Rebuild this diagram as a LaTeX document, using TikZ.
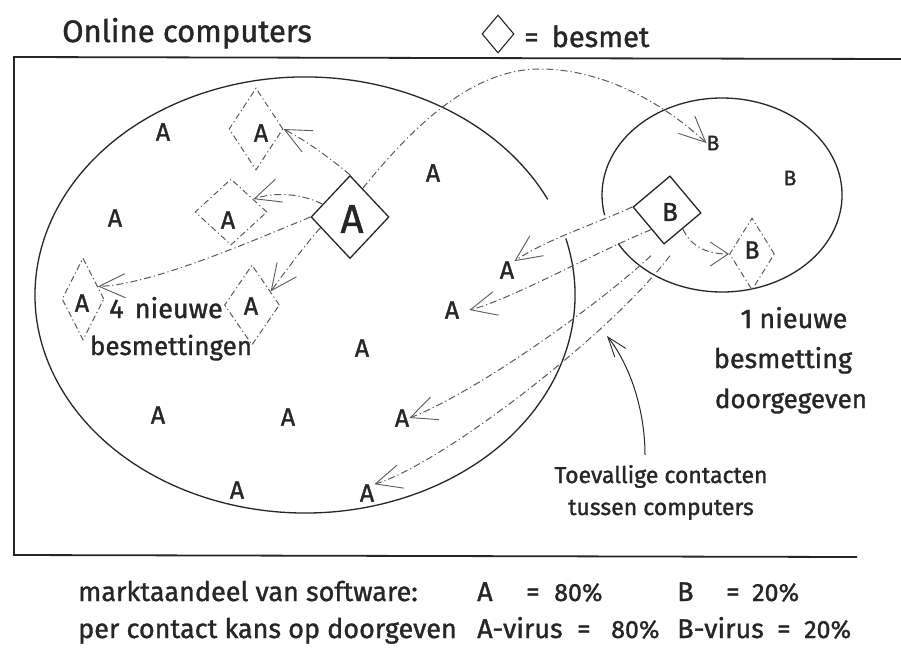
\documentclass[tikz,border=0pt]{standalone}
\usepackage{fontspec}
\setmainfont[FakeBold=1.2,AutoFakeBold=1.2]{Fira Sans}
\newfontfamily\hand[FakeBold=1.2]{Fira Sans}
\usetikzlibrary{shapes.geometric,arrows.meta,calc}
\definecolor{ink}{HTML}{262626}
\definecolor{pencil}{HTML}{5A5A5A}
\begin{document}
\begin{tikzpicture}[x=1pt,y=-1pt,
  every node/.style={inner sep=0pt, text=ink},
  hw/.style={font=\hand\fontsize{#1}{#1}\selectfont},
  frameline/.style={draw=ink, line width=1.8pt},
  blob/.style={draw=ink, line width=1.3pt},
  solidmark/.style={draw=ink, line width=1.3pt, inner sep=0pt},
  dashmark/.style={draw=pencil, line width=1pt, inner sep=0pt, dash pattern=on 6pt off 3pt on 1.2pt off 3pt},
  conn/.style={draw=pencil, line width=1pt, dash pattern=on 7pt off 3pt on 1.2pt off 3pt,
     -{Straight Barb[length=26pt,width=24pt,line width=0.9pt]}},
  pointer/.style={draw=ink, line width=1pt, -{Straight Barb[length=20pt,width=14pt,line width=0.9pt]}},
]
\fill[white] (0,0) rectangle (901,665);
\useasboundingbox (0,0) rectangle (901,665);

% frame
\draw[frameline] (901,59) -- (14,57) -- (14,555) -- (857,557);

% populations
\draw[blob] (547.7,199.4) arc[start angle=26, end angle=375, x radius=270pt, y radius=218pt];
\draw[blob] (618.1,243.5) arc[start angle=210, end angle=552, x radius=120pt, y radius=97pt];

% titles
\node[hw=31, anchor=base west] (title) at (62,42) {Online computers};
\node[diamond, draw=ink, line width=1.1pt, inner sep=0pt, minimum width=32pt, minimum height=38pt] (legend) at (498,34) {};
\node[hw=29, anchor=base west] (legendtxt) at (524,47) {=\hspace{13pt}besmet};

% infected A
\node[diamond, solidmark, minimum width=78pt, minimum height=83pt] (bigA) at (350,217) {};
\node[hw=40] (lbigA) at (352,219) {A};
\node[diamond, dashmark, minimum width=54pt, minimum height=82pt] (a1) at (256,129) {};
\node[hw=25] (la1) at (261,133) {A};
\node[diamond, dashmark, minimum width=72pt, minimum height=66pt] (a2) at (231,212) {};
\node[hw=25] (la2) at (228,220) {A};
\node[diamond, dashmark, minimum width=42pt, minimum height=82pt] (a3) at (83,299) {};
\node[hw=25] (la3) at (82,303) {A};
\node[diamond, dashmark, minimum width=55pt, minimum height=80pt] (a4) at (252,305) {};
\node[hw=25] (la4) at (251,306) {A};

% infected B
\node[rectangle, solidmark, minimum size=48pt, rotate=40] (bigB) at (667,210) {};
\node[hw=26] (lbigB) at (670,212) {B};
\node[diamond, dashmark, minimum width=45pt, minimum height=72pt] (b2) at (752,254) {};
\node[hw=25] (lb2) at (752,250) {B};

% plain A
\node[hw=25] (p1) at (163,132) {A};
\node[hw=25] (p2) at (115,218) {A};
\node[hw=25] (p3) at (433,173) {A};
\node[hw=25] (p4) at (507,270) {A};
\node[hw=25] (p5) at (452,310) {A};
\node[hw=25] (p6) at (362,348) {A};
\node[hw=25] (p7) at (158,415) {A};
\node[hw=25] (p8) at (288,417) {A};
\node[hw=25] (p9) at (402,418) {A};
\node[hw=25] (p10) at (237,490) {A};
\node[hw=25] (p11) at (367,493) {A};
% plain B
\node[hw=21] (q1) at (713,143) {B};
\node[hw=21] (q2) at (790,178) {B};

% contacts from A
\draw[conn] (bigA.north) .. controls (330,158) and (305,140) .. (a1.east);
\draw[conn] (bigA.155) .. controls (300,193) and (275,192) .. (a2.30);
\draw[conn] (bigA.west) .. controls (250,242) and (150,285) .. (a3.40);
\draw[conn] (bigA.200) .. controls (305,245) and (285,272) .. (a4.36);
\draw[conn] (bigA.66) .. controls (410,130) and (470,69) .. (540,69)
   .. controls (600,69) and (660,100) .. (q1.west);

% contacts from B
\draw[conn] (bigB.north west) .. controls (600,222) and (545,240) .. (p4.north east);
\draw[conn] ($(bigB.north west)!0.6!(bigB.south west)$) .. controls (600,250) and (510,300) .. ([xshift=10pt]p5.east);
\draw[conn] ($(bigB.south west)+(-13,11)$) .. controls (590,312) and (470,395) .. (p9.east);
\draw[conn] ($(bigB.south west)+(6,11)$) .. controls (610,335) and (440,465) .. (p11.north east);
\draw[conn, -{Straight Barb[length=18pt,width=24pt,line width=0.9pt]}] (bigB.south) .. controls (690,245) and (705,254) .. (b2.west);

% labels
\node[hw=27, anchor=base] (n4a) at (166,318) {4\hspace{4pt} nieuwe};
\node[hw=26, anchor=base] (n4b) at (171,355) {besmettingen};
\node[hw=27, anchor=base] (n1a) at (794,328) {1 nieuwe};
\node[hw=27, anchor=base] (n1b) at (783,368) {besmetting};
\node[hw=26, anchor=base] (n1c) at (791,408) {doorgegeven};
\node[hw=23, anchor=base] (toev1) at (661,483) {Toevallige contacten};
\node[hw=23, anchor=base] (toev2) at (661,515) {tussen computers};
\coordinate (hit) at (607,336);
\draw[pointer] ($(toev1.north)+(-16,-10)$) .. controls (645,410) and (630,365) .. (hit);

% bottom table
\node[hw=27, anchor=base west] (m1) at (78,601) {marktaandeel van software:};
\node[hw=27, anchor=base west] (m2) at (477,601) {A};
\node[hw=27, anchor=base west] (m3) at (526,601) {=};
\node[hw=25, anchor=base west] (m4) at (554,601) {80\%};
\node[hw=27, anchor=base west] (m5) at (677,601) {B};
\node[hw=27, anchor=base west] (m6) at (726,601) {=};
\node[hw=25, anchor=base west] (m7) at (752,601) {20\%};
\node[hw=27, anchor=base west] (r1) at (78,638) {per contact kans op doorgeven};
\node[hw=27, anchor=base west] (r2) at (477,638) {A-virus};
\node[hw=27, anchor=base west] (r3) at (577,638) {=};
\node[hw=25, anchor=base west] (r4) at (611,638) {80\%};
\node[hw=27, anchor=base west] (r5) at (677,638) {B-virus};
\node[hw=27, anchor=base west] (r6) at (777,638) {=};
\node[hw=25, anchor=base west] (r7) at (804,638) {20\%};
\end{tikzpicture}
\end{document}
